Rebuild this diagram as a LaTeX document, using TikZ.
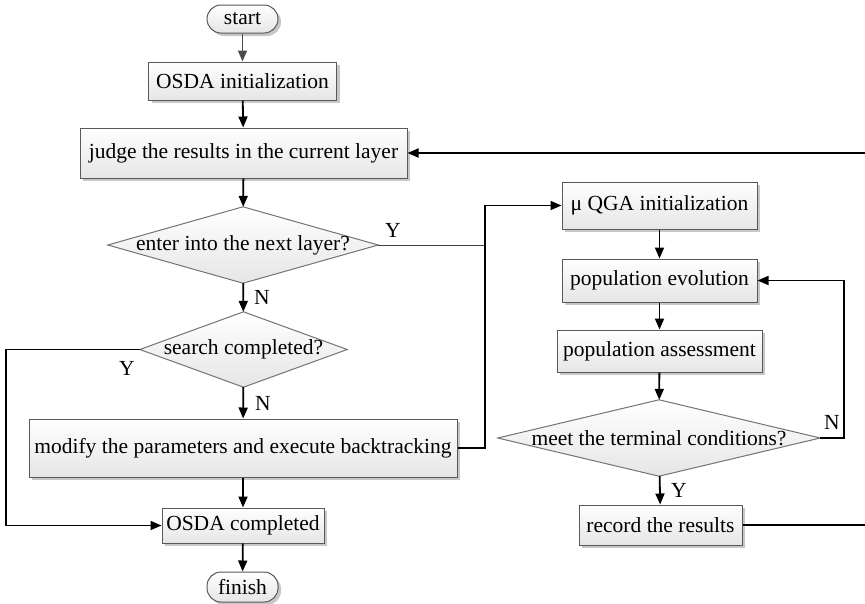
\documentclass[tikz,border=0pt]{standalone}
\usepackage{fontspec}
\setmainfont{Liberation Serif}
\newfontfamily\tnr{Liberation Serif}
\usetikzlibrary{arrows.meta,shadows}
\pgfdeclarelayer{background}
\pgfsetlayers{background,main}
\newcommand{\lbl}{\tnr\fontsize{21.5}{24}\selectfont}
\begin{document}
\begin{tikzpicture}[x=1pt,y=-1pt,
  box/.style={draw=black!65, line width=1pt, top color=white, bottom color=black!10,
    drop shadow={shadow xshift=3pt, shadow yshift=-3pt, fill=black!22, opacity=1},
    inner sep=0pt, font=\lbl},
  term/.style={box, rounded corners=14pt},
  dtext/.style={inner sep=0pt, font=\lbl},
  diam/.style={draw=black!55, line width=1pt, top color=white, bottom color=black!10},
  conn/.style={line width=1.8pt, -{Triangle[length=11pt,width=9pt]}},
  lab/.style={inner sep=0pt, font=\lbl}]
\useasboundingbox (0,0) rectangle (865,603);

% left column
\node[term, minimum width=71pt, minimum height=28pt] (start) at (242.5,19) {start};
\node[box, minimum width=188pt, minimum height=38pt] (init) at (242.5,81) {OSDA initialization};
\node[box, minimum width=327pt, minimum height=50pt] (judge) at (243.5,153) {judge the results in the current layer};
\node[dtext, minimum width=270pt, minimum height=76pt] (d1) at (243,245) {enter into the next layer?};
\node[dtext, minimum width=207pt, minimum height=75pt] (d2) at (243.5,349.5) {search completed?};
\node[box, minimum width=428pt, minimum height=58pt] (modify) at (243,448) {modify the parameters and execute backtracking};
\node[box, minimum width=162pt, minimum height=35pt] (done) at (243,525.5) {OSDA completed};
\node[term, minimum width=71pt, minimum height=30pt] (finish) at (242.5,587) {finish};

% right column
\node[box, minimum width=195pt, minimum height=47pt] (qga) at (659.5,205.5) {μ QGA initialization};
\node[box, minimum width=195pt, minimum height=43pt] (evo) at (659.5,280.5) {population evolution};
\node[box, minimum width=205pt, minimum height=42pt] (assess) at (659.5,351) {population assessment};
\node[dtext, minimum width=322pt, minimum height=76pt] (d3) at (659,438) {meet the terminal conditions?};
\node[box, minimum width=163pt, minimum height=40pt] (record) at (660.5,525) {record the results};

% decision shapes behind their texts
\begin{pgfonlayer}{background}
\foreach \d in {d1,d2,d3}
  \draw[diam] (\d.west) -- (\d.north) -- (\d.east) -- (\d.south) -- cycle;
\end{pgfonlayer}

% branch points
\coordinate (jx) at (485,0);
\coordinate (lx) at (6,0);
\coordinate (fx) at (844,0);
\coordinate (rx) at (868,0);

% main flow
\draw[conn, black!70] (start) -- (init);
\draw[conn] (init) -- (judge);
\draw[conn] (judge) -- (d1);
\draw[conn] (d1) -- (d2);
\draw[conn] (d2) -- (modify);
\draw[conn] (modify) -- (done);
\draw[conn] (done) -- (finish);

\draw[conn] (qga) -- (evo);
\draw[conn] (evo) -- (assess);
\draw[conn] (assess) -- (d3);
\draw[conn] (d3) -- (record);

% branches and loops
\draw[conn] (d2.west) -- (d2.west -| lx) -- (done.west -| lx) -- (done.west);
\draw[line width=1pt, black!75] (d1.east) -- (d1.east -| jx);
\draw[conn] (modify.east) -- (modify.east -| jx) -- (qga.west -| jx) -- (qga.west);
\draw[conn] (d3.east) -- (d3.east -| fx) -- (evo.east -| fx) -- (evo.east);
\draw[conn] (record.east) -- (record.east -| rx) -- (judge.east -| rx) -- (judge.east);

% branch labels
\node[lab] (y1) at (393,230) {Y};
\node[lab] (n1) at (262,297) {N};
\node[lab] (y2) at (127,368) {Y};
\node[lab] (n2) at (263,403) {N};
\node[lab] (n3) at (832,422) {N};
\node[lab] (y3) at (679,490) {Y};
\end{tikzpicture}
\end{document}
